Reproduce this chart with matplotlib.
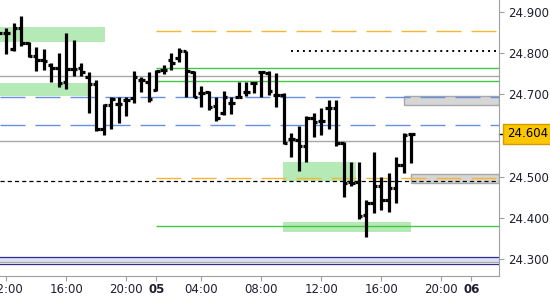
import numpy as np
import matplotlib.pyplot as plt
import matplotlib.transforms as mtransforms

plt.rcParams['font.family'] = ['DejaVu Sans']
plt.rcParams['lines.scale_dashes'] = False

# 30 minute bars, index 0 = day 04 11:30
bar_idx = np.arange(56)
opens = [24.862, 24.850, 24.811, 24.862, 24.825, 24.794, 24.784, 24.770, 24.765, 24.731,
         24.762, 24.765, 24.743, 24.726, 24.617, 24.675, 24.677, 24.687, 24.692, 24.736,
         24.731, 24.711, 24.760, 24.784, 24.787, 24.804, 24.755, 24.704, 24.706, 24.672,
         24.655, 24.680, 24.694, 24.706, 24.728, 24.755, 24.753, 24.699, 24.699, 24.592,
         24.590, 24.575, 24.643, 24.636, 24.668, 24.668, 24.583, 24.488, 24.488, 24.408,
         24.437, 24.478, 24.444, 24.473, 24.529, 24.604]
highs = [24.869, 24.862, 24.874, 24.889, 24.828, 24.816, 24.811, 24.777, 24.801, 24.850,
         24.833, 24.777, 24.755, 24.736, 24.677, 24.694, 24.694, 24.694, 24.757, 24.743,
         24.755, 24.760, 24.772, 24.801, 24.813, 24.804, 24.757, 24.721, 24.709, 24.694,
         24.709, 24.694, 24.731, 24.731, 24.731, 24.757, 24.757, 24.753, 24.704, 24.607,
         24.624, 24.648, 24.655, 24.668, 24.687, 24.687, 24.585, 24.536, 24.536, 24.444,
         24.561, 24.500, 24.510, 24.549, 24.607, 24.607]
lows = [24.840, 24.799, 24.804, 24.818, 24.791, 24.757, 24.760, 24.731, 24.719, 24.714,
        24.745, 24.745, 24.655, 24.612, 24.602, 24.617, 24.631, 24.648, 24.680, 24.706,
        24.682, 24.709, 24.750, 24.760, 24.779, 24.694, 24.694, 24.670, 24.663, 24.636,
        24.651, 24.653, 24.694, 24.697, 24.704, 24.694, 24.699, 24.670, 24.580, 24.549,
        24.515, 24.536, 24.597, 24.602, 24.617, 24.575, 24.451, 24.478, 24.398, 24.354,
        24.412, 24.420, 24.415, 24.437, 24.510, 24.534]
closes = [24.850, 24.850, 24.862, 24.825, 24.794, 24.784, 24.782, 24.765, 24.728, 24.762,
          24.762, 24.755, 24.726, 24.617, 24.675, 24.689, 24.677, 24.687, 24.743, 24.736,
          24.689, 24.757, 24.760, 24.777, 24.806, 24.757, 24.694, 24.704, 24.670, 24.643,
          24.694, 24.680, 24.694, 24.706, 24.728, 24.755, 24.709, 24.699, 24.583, 24.592,
          24.575, 24.643, 24.634, 24.636, 24.668, 24.583, 24.485, 24.485, 24.405, 24.437,
          24.478, 24.444, 24.473, 24.529, 24.602, 24.604]
last_price = 24.604

tick_pos = [1, 9, 17, 21, 27, 35, 43, 51, 59, 63]
tick_lbl = ['12:00', '16:00', '20:00', '05', '04:00', '08:00', '12:00', '16:00', '20:00', '06']
ytick_vals = [24.3, 24.4, 24.5, 24.7, 24.8, 24.9]

# levels
green_zones = [(0, 14.2, 24.828, 24.864), (0, 11.9, 24.697, 24.728),
               (37.9, 47.6, 24.489, 24.535), (37.9, 55.0, 24.367, 24.391)]
gray_zones = [(54.0, 24.674, 24.696), (55.0, 24.485, 24.506)]
green_lines = [24.764, 24.733, 24.380]
gray_lines = [24.745, 24.587]
blue_dash = [24.694, 24.625]
orange_dash = [24.854, 24.497]
black_dash = 24.489
black_dot = 24.806

fig = plt.figure(figsize=(5.5, 3.0), dpi=100)
ax = fig.add_axes([0, 24 / 300, 499 / 550, 276 / 300])
x0, x1 = 0.16, 66.69
ax.set_xlim(x0, x1)
ax.set_ylim(24.259, 24.929)

# bands / zones
for a, b, lo, hi in green_zones:
    ax.fill_between([a, b], lo, hi, color='#b5e9b5', lw=0, zorder=1)
for a, lo, hi in gray_zones:
    ax.add_patch(plt.Rectangle((a, lo), x1 - a, hi - lo, facecolor='#d6d6d6',
                               edgecolor='#a8a8a8', lw=1, zorder=1))

ax.axhspan(24.293, 24.305, color='#dedef6', lw=0, zorder=1)
ax.axhline(24.305, color='#2e2e96', lw=0.9, zorder=2)
ax.axhline(24.292, color='#a8a8a8', lw=0.9, zorder=2)
ax.axhline(24.287, color='#2e2e96', lw=0.9, zorder=2)

for y in gray_lines:
    ax.axhline(y, color='#a8a8a8', lw=1.0, zorder=2)
for y in blue_dash:
    ax.axhline(y, color='#6a8fe0', lw=1.0, dashes=(18, 7.2), zorder=2)
for y in green_lines:
    ax.hlines(y, 21, x1, color='#44c844', lw=1.0, zorder=2)
for y in orange_dash:
    ax.hlines(y, 21, x1, color='#f5b731', lw=1.0, linestyles=[(0, (18, 7.2))], zorder=2)
ax.axhline(black_dash, color='black', lw=0.9, dashes=(3, 2.2), zorder=2)
ax.hlines(black_dot, 39, x1, color='black', lw=1.4, linestyles=[(0, (1.4, 2.9))], zorder=2)

# OHLC bars
ax.vlines(bar_idx, lows, highs, color='black', lw=2.3, zorder=4)
ax.hlines(opens, bar_idx - 0.45, bar_idx, color='black', lw=2.3, zorder=4)
ax.hlines(closes, bar_idx, bar_idx + 0.45, color='black', lw=2.3, zorder=4)

# axes styling
for s in ['top', 'left']:
    ax.spines[s].set_visible(False)
for s in ['right', 'bottom']:
    ax.spines[s].set_color('#a0a0a0')
ax.yaxis.tick_right()
ax.set_yticks(ytick_vals)
ax.set_yticklabels(['%.3f' % v for v in ytick_vals])
ax.set_xticks(tick_pos)
ax.set_xticklabels(tick_lbl)
for t in ax.get_xticklabels():
    if t.get_text() in ('05', '06'):
        t.set_fontweight('bold')
ax.tick_params(axis='both', colors='#a0a0a0', labelcolor='#1e1e30', labelsize=8.5,
               length=3.6, width=0.8)
ax.tick_params(axis='y', pad=3)
ax.tick_params(axis='x', pad=1.5)

# last price marker
trans = mtransforms.blended_transform_factory(ax.transAxes, ax.transData)
ax.plot([1.0, 1.012], [last_price, last_price], color='black', lw=1, transform=trans,
        clip_on=False)
ax.text(1.016, last_price, '%.3f' % last_price, transform=trans, ha='left', va='center',
        fontsize=8.5, color='black',
        bbox=dict(boxstyle='square,pad=0.3', facecolor='#fcc600', edgecolor='#d39b00', lw=1))

fig.savefig('out.png', dpi=100)
